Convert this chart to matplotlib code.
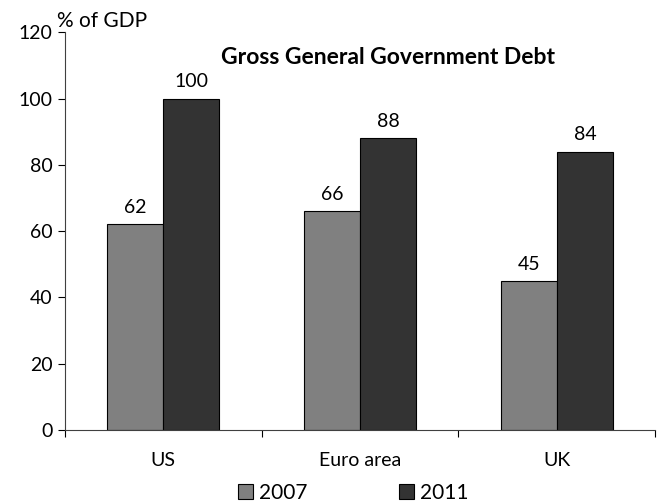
import matplotlib
matplotlib.use("Agg")
import matplotlib.pyplot as plt
import numpy as np

categories = ["US", "Euro area", "UK"]
series_names = ["2007", "2011"]
values_2007 = [62, 66, 45]
values_2011 = [100, 88, 84]
yticks = [0, 20, 40, 60, 80, 100, 120]

plt.rcParams['font.family'] = ['Lato', 'DejaVu Sans']
FS = 14

fig = plt.figure(figsize=(6.61, 5.03), dpi=100)
ax = fig.add_axes([0.0983, 0.145, 0.893, 0.791])

x = np.arange(len(categories))
w = 0.285
b1 = ax.bar(x - w/2, values_2007, w, color="#808080", edgecolor="black", linewidth=0.8, label=series_names[0])
b2 = ax.bar(x + w/2, values_2011, w, color="#333333", edgecolor="black", linewidth=0.8, label=series_names[1])
for bars in (b1, b2):
    for r in bars:
        ax.annotate(f"{int(r.get_height())}", (r.get_x() + r.get_width()/2, r.get_height()),
                    xytext=(0, 6), textcoords="offset points", ha="center", va="bottom", fontsize=FS)

ax.set_xlim(-0.5, len(categories) - 0.5)
ax.set_ylim(0, 120)
ax.set_yticks(yticks)
ax.set_xticks(x)
ax.set_xticklabels(categories, fontsize=FS)
ax.tick_params(axis='x', length=0, pad=16)
ax.set_xticks([-0.5, 0.5, 1.5, 2.5], minor=True)
ax.tick_params(axis='x', which='minor', length=5, direction='out', width=0.8)
ax.tick_params(axis='y', labelsize=FS, length=5, direction='out', width=0.8, pad=4)
for s in ['top', 'right']:
    ax.spines[s].set_visible(False)
for s in ['left', 'bottom']:
    ax.spines[s].set_linewidth(0.8)
    ax.spines[s].set_color('#404040')

fig.text(0.086, 0.958, "% of GDP", fontsize=15, ha="left", va="center")
ax.text(0.547, 0.937, "Gross General Government Debt", transform=ax.transAxes,
        fontsize=16.5, fontweight='bold', ha='center', va='center')

fig.legend(handles=[b1, b2], labels=series_names, loc='center', bbox_to_anchor=(0.535, 0.02),
           ncol=2, frameon=False, fontsize=15, handlelength=0.7, handleheight=0.7,
           columnspacing=4.4, handletextpad=0.3)

fig.savefig("out.png", dpi=100)
